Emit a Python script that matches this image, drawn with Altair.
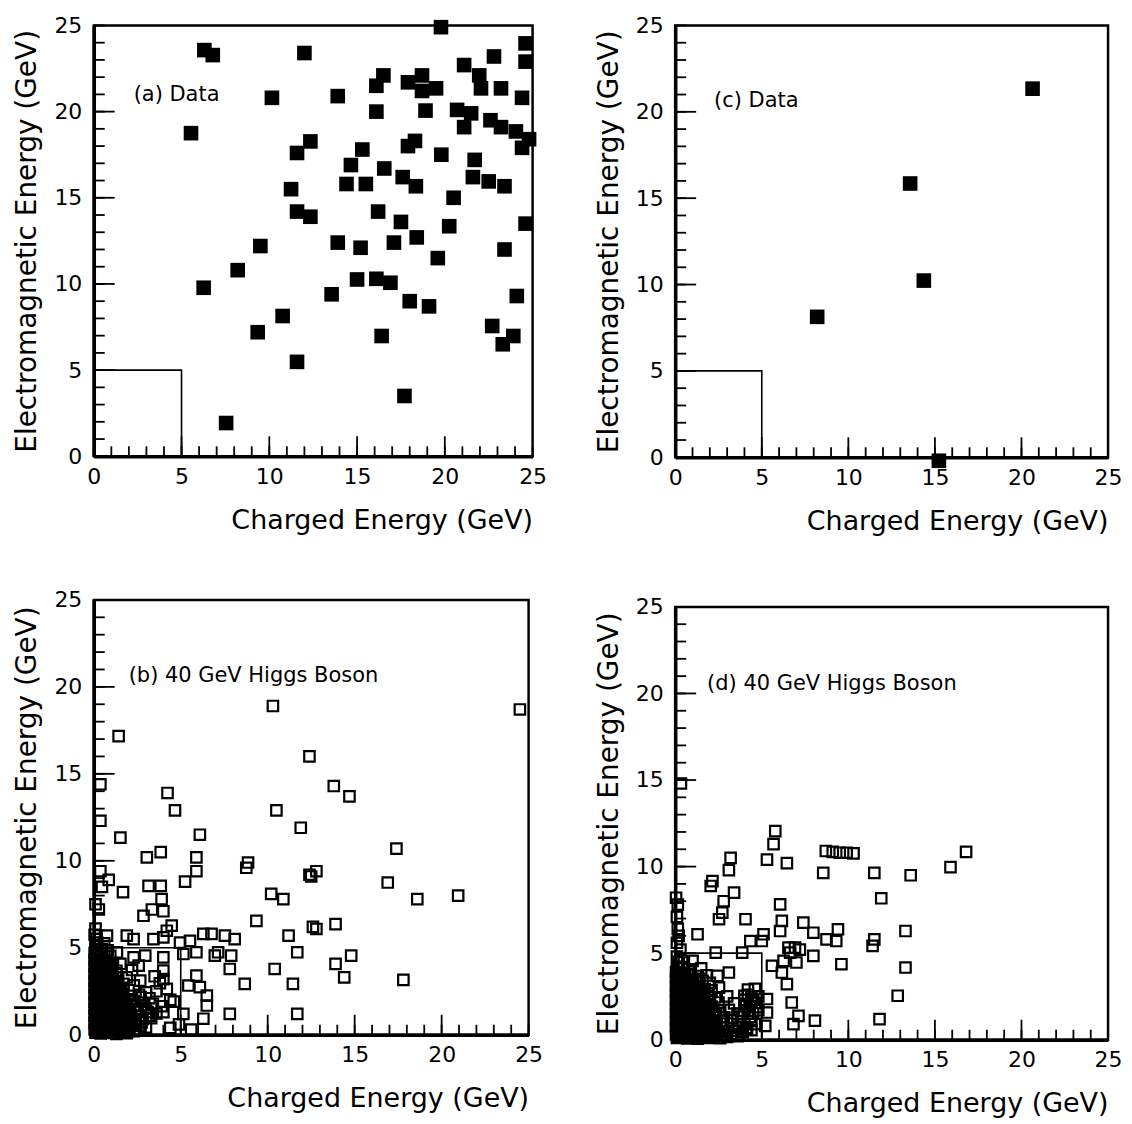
import altair as alt
import pandas as pd

# ---------------- data ----------------
# (a) Data : filled squares
a_x = [6.3, 6.78, 12.0, 10.15, 5.54, 12.34, 11.58, 11.24, 11.58, 12.34, 9.49,
       19.78, 24.6, 24.6, 22.8, 21.1, 21.96, 22.06, 23.2, 24.4, 16.5, 16.1, 17.9, 18.7, 18.7, 19.5,
       13.9, 16.1, 18.9, 20.7, 21.5, 21.1, 22.6, 23.2, 24.05, 24.8, 24.4, 18.3, 17.9, 19.8,
       15.3, 14.65, 16.55, 21.7, 21.6, 22.5, 23.4, 17.6, 18.35, 14.4, 15.5, 20.5, 16.2, 17.5, 20.25, 24.6,
       13.9, 15.2, 17.1, 18.4, 19.6, 23.4, 15.0, 16.1, 16.9, 13.55, 18.0, 19.1, 24.1, 22.7, 23.9, 23.3, 16.4, 17.7,
       8.2, 6.26, 10.76, 9.34, 11.58, 7.54]
a_y = [23.57, 23.28, 23.4, 20.8, 18.75, 18.27, 17.6, 15.5, 14.2, 13.9, 12.2,
       24.9, 23.96, 22.9, 23.2, 22.7, 22.1, 21.35, 21.35, 20.8, 22.1, 21.5, 21.7, 22.1, 21.2, 21.35,
       20.9, 20.0, 20.06, 20.1, 19.9, 19.1, 19.5, 19.1, 18.85, 18.4, 17.9, 18.3, 18.0, 17.5,
       17.8, 16.9, 16.7, 17.2, 16.2, 15.95, 15.67, 16.2, 15.67, 15.8, 15.8, 15.0, 14.2, 13.6, 13.35, 13.5,
       12.4, 12.1, 12.4, 12.7, 11.5, 12.0, 10.26, 10.3, 10.07, 9.4, 9.0, 8.7, 9.3, 7.56, 6.98, 6.5, 6.98, 3.5,
       10.8, 9.78, 8.14, 7.2, 5.48, 1.93]

# (c) Data : filled squares
c_x = [20.64, 13.57, 14.36, 8.2, 15.23]
c_y = [21.34, 15.85, 10.23, 8.13, -0.2]

# (b) 40 GeV Higgs Boson : open squares
b_x = [1.43, 10.3, 24.5, 12.4, 0.38, 4.24, 13.8, 14.7, 4.67, 10.5, 0.38, 11.9,
       1.53, 6.1, 3.05, 3.85, 5.9, 5.9, 5.25, 8.87, 8.77, 12.4, 0.38, 0.86, 0.47, 1.68, 3.15, 3.85, 3.9, 4.0,
       3.34, 2.86, 0.1, 0.29, 10.2, 10.9, 4.48, 4.2, 9.35, 11.2, 12.6, 11.7, 10.4, 11.45, 8.68, 11.7,
       0.05, 0.76, 1.9, 2.29, 3.43, 4.0, 4.96, 5.53, 6.3, 6.77, 7.54, 8.1,
       1.33, 2.29, 2.96, 4.0, 5.15, 5.9, 6.96, 7.15, 7.9, 7.82,
       1.53, 2.58, 1.9, 2.67, 4.0, 4.0, 4.2, 5.9, 6.1, 6.5, 5.44, 6.5, 5.15, 6.3, 7.82, 4.0,
       17.4, 12.8, 12.5, 16.9, 18.6, 20.95, 13.9, 12.8, 14.8, 13.9, 14.4, 17.8,
       # dense cluster near the origin
       0.1, 0.4, 0.7, 1.0, 1.3, 1.6, 1.9, 2.3,
       0.2, 0.5, 0.9, 1.2, 1.5, 1.8, 2.1, 2.6, 3.0,
       0.1, 0.35, 0.7, 1.1, 1.4, 1.7, 2.2, 2.8, 3.3,
       0.2, 0.5, 0.8, 1.2, 1.6, 2.0, 2.5, 3.1, 3.6,
       0.1, 0.4, 0.7, 1.0, 1.4, 1.9, 2.4, 2.9, 3.4, 3.9,
       0.2, 0.5, 0.9, 1.3, 1.7, 2.2, 2.7, 3.2, 4.4,
       0.1, 0.35, 0.7, 1.1, 1.5, 2.0, 3.0, 3.6,
       0.2, 0.5, 0.8, 1.2, 1.7, 2.3, 3.8,
       0.1, 0.4, 0.75, 1.1, 1.4, 3.5,
       0.2, 0.5, 0.9, 1.3, 2.2,
       0.1, 0.4, 0.8, 1.1,
       0.2, 0.6, 0.95,
       0.1, 0.45, 0.8,
       0.2, 0.6,
       4.6, 4.9, 4.4, 5.6,
       0.05, 0.25, 0.55, 0.85, 1.15, 1.45, 1.75, 2.05, 2.45,
       0.05, 0.3, 0.6, 0.95, 1.25, 1.55, 1.85, 2.35, 2.75,
       0.05, 0.25, 0.55, 0.85, 1.15, 1.5, 1.8, 2.15, 2.6, 3.2,
       0.05, 0.3, 0.6, 0.9, 1.25, 1.55, 1.85, 2.5, 3.0,
       0.05, 0.25, 0.55, 0.85, 1.2, 1.5, 1.8, 2.3,
       0.05, 0.3, 0.6, 0.95, 1.25, 1.6, 2.6,
       0.05, 0.25, 0.55, 0.9, 1.2, 1.55,
       0.05, 0.3, 0.6, 0.95, 1.25,
       0.05, 0.25, 0.6, 0.95, 1.3,
       0.05, 0.3, 0.65, 1.0,
       0.05, 0.3, 0.7,
       0.05, 0.35,
       0.1, 0.15, 0.1]
b_y = [17.17, 18.9, 18.7, 16.0, 14.4, 13.9, 14.3, 13.7, 12.9, 12.9, 12.3, 11.9,
       11.33, 11.5, 10.2, 10.5, 10.2, 9.4, 8.8, 9.9, 9.6, 9.2, 9.4, 8.9, 8.5, 8.2, 8.56, 8.56, 7.8, 7.1,
       7.2, 6.84, 7.5, 7.2, 8.1, 7.8, 6.27, 5.98, 6.55, 5.7, 6.2, 4.74, 3.78, 2.92, 2.92, 1.2,
       5.75, 5.7, 5.7, 5.5, 5.5, 5.6, 5.3, 5.4, 5.8, 5.8, 5.7, 5.5,
       4.74, 4.45, 4.55, 4.45, 4.64, 4.74, 4.55, 4.74, 4.55, 3.78,
       4.07, 3.97, 3.3, 3.11, 3.69, 3.2, 2.64, 3.4, 2.74, 2.25, 2.83, 1.68, 1.2, 0.92, 1.2, 1.3,
       10.7, 9.4, 9.1, 8.75, 7.8, 8.0, 6.36, 6.08, 4.55, 4.07, 3.3, 3.15,
       0.12, 0.08, 0.15, 0.1, 0.05, 0.14, 0.09, 0.2,
       0.5, 0.45, 0.55, 0.48, 0.52, 0.44, 0.58, 0.5, 0.42,
       0.92, 0.88, 0.95, 0.86, 0.9, 0.98, 0.84, 0.9, 0.95,
       1.3, 1.25, 1.35, 1.28, 1.32, 1.24, 1.36, 1.3, 1.22,
       1.7, 1.74, 1.66, 1.72, 1.68, 1.75, 1.65, 1.7, 1.78, 1.64,
       2.1, 2.05, 2.15, 2.08, 2.12, 2.04, 2.16, 2.1, 2.0,
       2.5, 2.55, 2.45, 2.52, 2.48, 2.56, 2.44, 2.5,
       2.9, 2.86, 2.94, 2.88, 2.92, 2.84, 2.96,
       3.3, 3.34, 3.26, 3.32, 3.28, 3.36,
       3.7, 3.66, 3.74, 3.68, 3.72,
       4.1, 4.14, 4.06, 4.12,
       4.5, 4.46, 4.54,
       4.9, 4.94, 4.86,
       5.3, 5.26,
       1.9, 0.6, 0.4, 0.3,
       0.3, 0.32, 0.28, 0.3, 0.33, 0.27, 0.3, 0.31, 0.29,
       0.7, 0.68, 0.72, 0.7, 0.66, 0.73, 0.7, 0.69, 0.71,
       1.1, 1.12, 1.08, 1.1, 1.13, 1.07, 1.1, 1.12, 1.09, 1.1,
       1.5, 1.48, 1.52, 1.5, 1.47, 1.53, 1.5, 1.49, 1.51,
       1.9, 1.92, 1.88, 1.9, 1.93, 1.87, 1.9, 1.91,
       2.3, 2.28, 2.32, 2.3, 2.27, 2.33, 2.3,
       2.7, 2.72, 2.68, 2.7, 2.73, 2.67,
       3.1, 3.08, 3.12, 3.1, 3.07,
       3.5, 3.52, 3.48, 3.5, 3.53,
       3.9, 3.88, 3.92, 3.9,
       4.3, 4.32, 4.28,
       4.7, 4.72,
       5.1, 5.5, 6.1]
# further (b) events packed in the black core, one row per EM-energy level
b_core_rows = [
    (0.2, [0.15, 0.45, 0.75, 1.05, 1.35, 1.65, 2.0]),
    (0.6, [0.15, 0.45, 0.75, 1.05, 1.35, 1.65, 2.4]),
    (1.0, [0.15, 0.45, 0.75, 1.05, 1.35, 1.65, 2.0]),
    (1.4, [0.15, 0.45, 0.75, 1.05, 1.35, 1.65, 2.7]),
    (1.8, [0.15, 0.45, 0.75, 1.05, 1.35, 1.65]),
    (2.2, [0.15, 0.45, 0.75, 1.05, 1.35, 1.65]),
    (2.6, [0.15, 0.45, 0.75, 1.05, 1.35]),
    (3.0, [0.15, 0.45, 0.75, 1.05, 1.35]),
    (3.4, [0.15, 0.45, 0.75, 1.05]),
    (3.8, [0.15, 0.45, 0.75, 1.05]),
    (4.2, [0.15, 0.45, 0.75]),
    (4.6, [0.15, 0.45]),
]

# (d) 40 GeV Higgs Boson : open squares
d_x = [0.33, 5.78, 5.68, 3.2, 3.1, 5.3, 6.45, 8.7, 9.1, 9.5, 9.9, 10.3, 8.55, 11.5, 2.15, 2.05, 3.4, 2.8,
       0.05, 0.15, 11.9, 6.06, 2.72, 2.53, 4.06, 6.16, 6.06, 7.4, 7.98, 9.4, 1.29, 5.1, 4.34, 5.0, 8.74, 9.3,
       11.5, 11.4, 6.54, 6.92, 6.64, 7.2, 2.34, 3.87, 7.98, 5.59, 6.26, 7.0, 6.16, 6.45, 9.6, 1.0, 3.1, 2.44,
       2.53, 1.58, 5.3, 5.3, 5.2, 6.73, 7.12, 6.83, 8.07, 11.8, 16.8, 15.9, 13.6, 13.3, 13.3, 12.85,
       0.2, 0.3, 0.1, 0.1, 0.15, 0.1,
       # dense cluster near the origin
       0.1, 0.4, 0.7, 1.0, 1.3, 1.6, 1.9, 2.2, 2.6, 3.0,
       0.2, 0.5, 0.8, 1.1, 1.5, 1.8, 2.1, 2.5, 2.9, 3.4, 3.9, 4.4,
       0.1, 0.4, 0.7, 1.0, 1.3, 1.7, 2.0, 2.4, 3.0, 3.6, 4.6,
       0.2, 0.5, 0.9, 1.2, 1.6, 2.0, 2.3, 2.8, 3.3, 3.8, 4.3,
       0.1, 0.35, 0.7, 1.05, 1.4, 1.8, 2.2, 2.6, 3.1, 4.0, 4.8,
       0.2, 0.5, 0.85, 1.2, 1.6, 2.0, 2.5, 3.4, 4.1, 4.6,
       0.1, 0.4, 0.75, 1.1, 1.5, 1.9, 2.3, 3.0, 4.0, 4.4, 4.8,
       0.2, 0.5, 0.9, 1.3, 1.7, 2.1, 4.2, 4.6,
       0.1, 0.4, 0.8, 1.2, 2.0,
       0.2, 0.55, 0.9, 1.3, 1.8,
       0.1, 0.45, 0.8, 1.5,
       0.2, 0.5,
       0.05, 0.25, 0.55, 0.85, 1.15, 1.45, 1.75, 2.05, 2.4, 2.8, 3.2,
       0.05, 0.3, 0.6, 0.95, 1.25, 1.6, 1.95, 2.3, 2.7, 3.7, 4.15,
       0.05, 0.25, 0.55, 0.85, 1.15, 1.5, 1.85, 2.2, 2.6, 3.3, 4.4,
       0.05, 0.3, 0.6, 0.9, 1.25, 1.55, 1.9, 2.35, 3.6, 4.2, 4.5,
       0.05, 0.25, 0.55, 0.85, 1.2, 1.5, 1.8, 2.1, 4.3, 4.7,
       0.05, 0.3, 0.6, 0.95, 1.25, 1.6, 2.0, 4.0, 4.5,
       0.05, 0.25, 0.55, 0.9, 1.2, 1.55,
       0.05, 0.3, 0.6, 0.95, 1.3,
       0.05, 0.3, 0.65, 1.0,
       0.05, 0.35]
d_y = [14.8, 12.05, 11.3, 10.5, 9.8, 10.4, 10.2, 10.9, 10.85, 10.8, 10.8, 10.76, 9.64, 9.64, 9.16, 8.88, 8.5, 8.0,
       8.2, 7.8, 8.17, 7.82, 7.34, 6.96, 6.96, 6.86, 6.28, 6.76, 6.18, 6.38, 6.09, 6.09, 5.7, 5.7, 5.8, 5.7,
       5.8, 5.42, 5.32, 5.32, 5.03, 5.2, 5.03, 5.03, 4.84, 4.27, 4.55, 4.46, 3.88, 3.21, 4.36, 4.55, 3.88, 3.69,
       3.01, 3.4, 2.35, 1.57, 0.8, 2.15, 1.38, 0.9, 1.1, 1.19, 10.85, 9.97, 9.5, 6.28, 4.17, 2.54,
       6.0, 5.2, 4.8, 5.6, 6.4, 7.1,
       0.1, 0.14, 0.08, 0.12, 0.06, 0.15, 0.1, 0.13, 0.09, 0.16,
       0.5, 0.46, 0.54, 0.48, 0.52, 0.44, 0.56, 0.5, 0.47, 0.53, 0.45, 0.55,
       0.9, 0.94, 0.86, 0.92, 0.88, 0.95, 0.85, 0.9, 0.93, 0.87, 0.9,
       1.3, 1.26, 1.34, 1.28, 1.32, 1.25, 1.35, 1.3, 1.27, 1.33, 1.3,
       1.7, 1.74, 1.66, 1.72, 1.68, 1.75, 1.65, 1.7, 1.73, 1.67, 1.7,
       2.1, 2.06, 2.14, 2.08, 2.12, 2.05, 2.15, 2.1, 2.07, 2.13,
       2.5, 2.54, 2.46, 2.52, 2.48, 2.55, 2.45, 2.5, 2.53, 2.47, 2.5,
       2.9, 2.86, 2.94, 2.88, 2.92, 2.85, 2.9, 2.94,
       3.3, 3.34, 3.26, 3.32, 3.28,
       3.7, 3.66, 3.74, 3.68, 3.72,
       4.1, 4.14, 4.06, 4.12,
       4.5, 4.46,
       0.3, 0.32, 0.28, 0.3, 0.33, 0.27, 0.3, 0.31, 0.29, 0.3, 0.32,
       0.7, 0.68, 0.72, 0.7, 0.66, 0.73, 0.7, 0.69, 0.71, 0.7, 0.68,
       1.1, 1.12, 1.08, 1.1, 1.13, 1.07, 1.1, 1.12, 1.09, 1.1, 1.08,
       1.5, 1.48, 1.52, 1.5, 1.47, 1.53, 1.5, 1.49, 1.51, 1.5, 1.52,
       1.9, 1.92, 1.88, 1.9, 1.93, 1.87, 1.9, 1.91, 1.9, 1.88,
       2.3, 2.28, 2.32, 2.3, 2.27, 2.33, 2.3, 2.3, 2.32,
       2.7, 2.72, 2.68, 2.7, 2.73, 2.67,
       3.1, 3.08, 3.12, 3.1, 3.07,
       3.5, 3.52, 3.48, 3.5,
       3.9, 3.88]
d_core_rows = [
    (0.2, [0.15, 0.45, 0.75, 1.05, 1.35, 1.65, 1.95, 2.25, 3.6]),
    (0.6, [0.15, 0.45, 0.75, 1.05, 1.35, 1.65, 1.95, 2.25, 4.1]),
    (1.0, [0.15, 0.45, 0.75, 1.05, 1.35, 1.65, 1.95, 2.25]),
    (1.4, [0.15, 0.45, 0.75, 1.05, 1.35, 1.65, 1.95, 2.25]),
    (1.8, [0.15, 0.45, 0.75, 1.05, 1.35, 1.65, 1.95]),
    (2.2, [0.15, 0.45, 0.75, 1.05, 1.35, 1.65, 1.95, 4.4]),
    (2.6, [0.15, 0.45, 0.75, 1.05, 1.35, 1.65, 4.2]),
    (3.0, [0.15, 0.45, 0.75, 1.05, 1.35]),
    (3.4, [0.15, 0.45, 0.75, 1.05]),
    (3.8, [0.15, 0.45, 0.75]),
    (4.2, [0.15, 0.45]),
]

axis_values = [0, 5, 10, 15, 20, 25]
minor_ticks = list(range(0, 26))
major_ticks = [5, 10, 15, 20]
cut_lo, cut_hi = 0, 5
x_title = "Charged Energy (GeV)"
y_title = "Electromagnetic Energy (GeV)"

FONT = "DejaVu Sans"


def with_rows(xs, ys, rows):
    xx, yy = list(xs), list(ys)
    for yv, row in rows:
        for xv in row:
            xx.append(xv)
            yy.append(yv)
    return xx, yy


def panel(xs, ys, filled, label, lx, ly, w, h):
    df = pd.DataFrame({"x": xs, "y": ys})
    xsc = alt.Scale(domain=[0, 25], nice=False, zero=False)
    ysc = alt.Scale(domain=[0, 25], nice=False, zero=False)
    xax = alt.Axis(values=axis_values, title=x_title, titleAnchor="end", ticks=False,
                   grid=False, labelPadding=10, titlePadding=20, format="d", labelFlush=False)
    yax = alt.Axis(values=axis_values, title=y_title, ticks=False, grid=False,
                   labelPadding=12, titlePadding=12, format="d", labelFlush=False)
    if filled:
        pts = alt.Chart(df).mark_point(shape="square", filled=True, size=215,
                                       color="black", opacity=1)
    else:
        pts = alt.Chart(df).mark_point(shape="square", filled=False, size=110,
                                       color="black", strokeWidth=2.2, opacity=1)
    pts = pts.encode(x=alt.X("x:Q", scale=xsc, axis=xax),
                     y=alt.Y("y:Q", scale=ysc, axis=yax))
    box = alt.Chart(pd.DataFrame({"x0": [cut_lo], "x1": [cut_hi], "y0": [cut_lo], "y1": [cut_hi]})).mark_rect(
        fillOpacity=0, stroke="black", strokeWidth=1.6).encode(
        x=alt.X("x0:Q", scale=xsc, axis=xax), x2="x1", y=alt.Y("y0:Q", scale=ysc, axis=yax), y2="y1")
    tmin = pd.DataFrame({"t": minor_ticks})
    tmaj = pd.DataFrame({"t": major_ticks})
    xt1 = alt.Chart(tmin).mark_rule(color="black", strokeWidth=1.8).encode(
        x=alt.X("t:Q", scale=xsc, axis=xax), y=alt.value(h), y2=alt.value(h - 10))
    xt2 = alt.Chart(tmaj).mark_rule(color="black", strokeWidth=1.8).encode(
        x=alt.X("t:Q", scale=xsc, axis=xax), y=alt.value(h), y2=alt.value(h - 20))
    yt1 = alt.Chart(tmin).mark_rule(color="black", strokeWidth=1.8).encode(
        y=alt.Y("t:Q", scale=ysc, axis=yax), x=alt.value(0), x2=alt.value(11))
    yt2 = alt.Chart(tmaj).mark_rule(color="black", strokeWidth=1.8).encode(
        y=alt.Y("t:Q", scale=ysc, axis=yax), x=alt.value(0), x2=alt.value(21))
    txt = alt.Chart(pd.DataFrame({"l": [label]})).mark_text(
        align="left", baseline="middle", fontSize=21, font=FONT, color="black").encode(
        x=alt.value(lx), y=alt.value(ly), text="l:N")
    return alt.layer(box, xt1, xt2, yt1, yt2, pts, txt).properties(width=w, height=h)


bx, by = with_rows(b_x, b_y, b_core_rows)
dx, dy = with_rows(d_x, d_y, d_core_rows)

pa = panel(a_x, a_y, True, "(a) Data", 40, 70, 440, 432)
pc = panel(c_x, c_y, True, "(c) Data", 39, 76, 434, 433)
pb = panel(bx, by, False, "(b) 40 GeV Higgs Boson", 35, 76, 436, 436)
pd_ = panel(dx, dy, False, "(d) 40 GeV Higgs Boson", 32, 77, 434, 434)

left = alt.vconcat(pa, pb, spacing=52)
right = alt.vconcat(pc, pd_, spacing=58)
chart = alt.hconcat(left, right, spacing=45).properties(
    padding={"left": 4, "top": 3, "right": 0, "bottom": 0}, background="white"
).configure_view(stroke="black", strokeWidth=2.5).configure_axis(
    domainColor="black", domainWidth=3.5, labelColor="black", titleColor="black",
    labelFont=FONT, titleFont=FONT, labelFontSize=22, titleFontSize=27,
    titleFontWeight="normal"
).configure_axisY(titleFontSize=28)

chart.save("out.html", embed_options={"renderer": "svg", "actions": False})
